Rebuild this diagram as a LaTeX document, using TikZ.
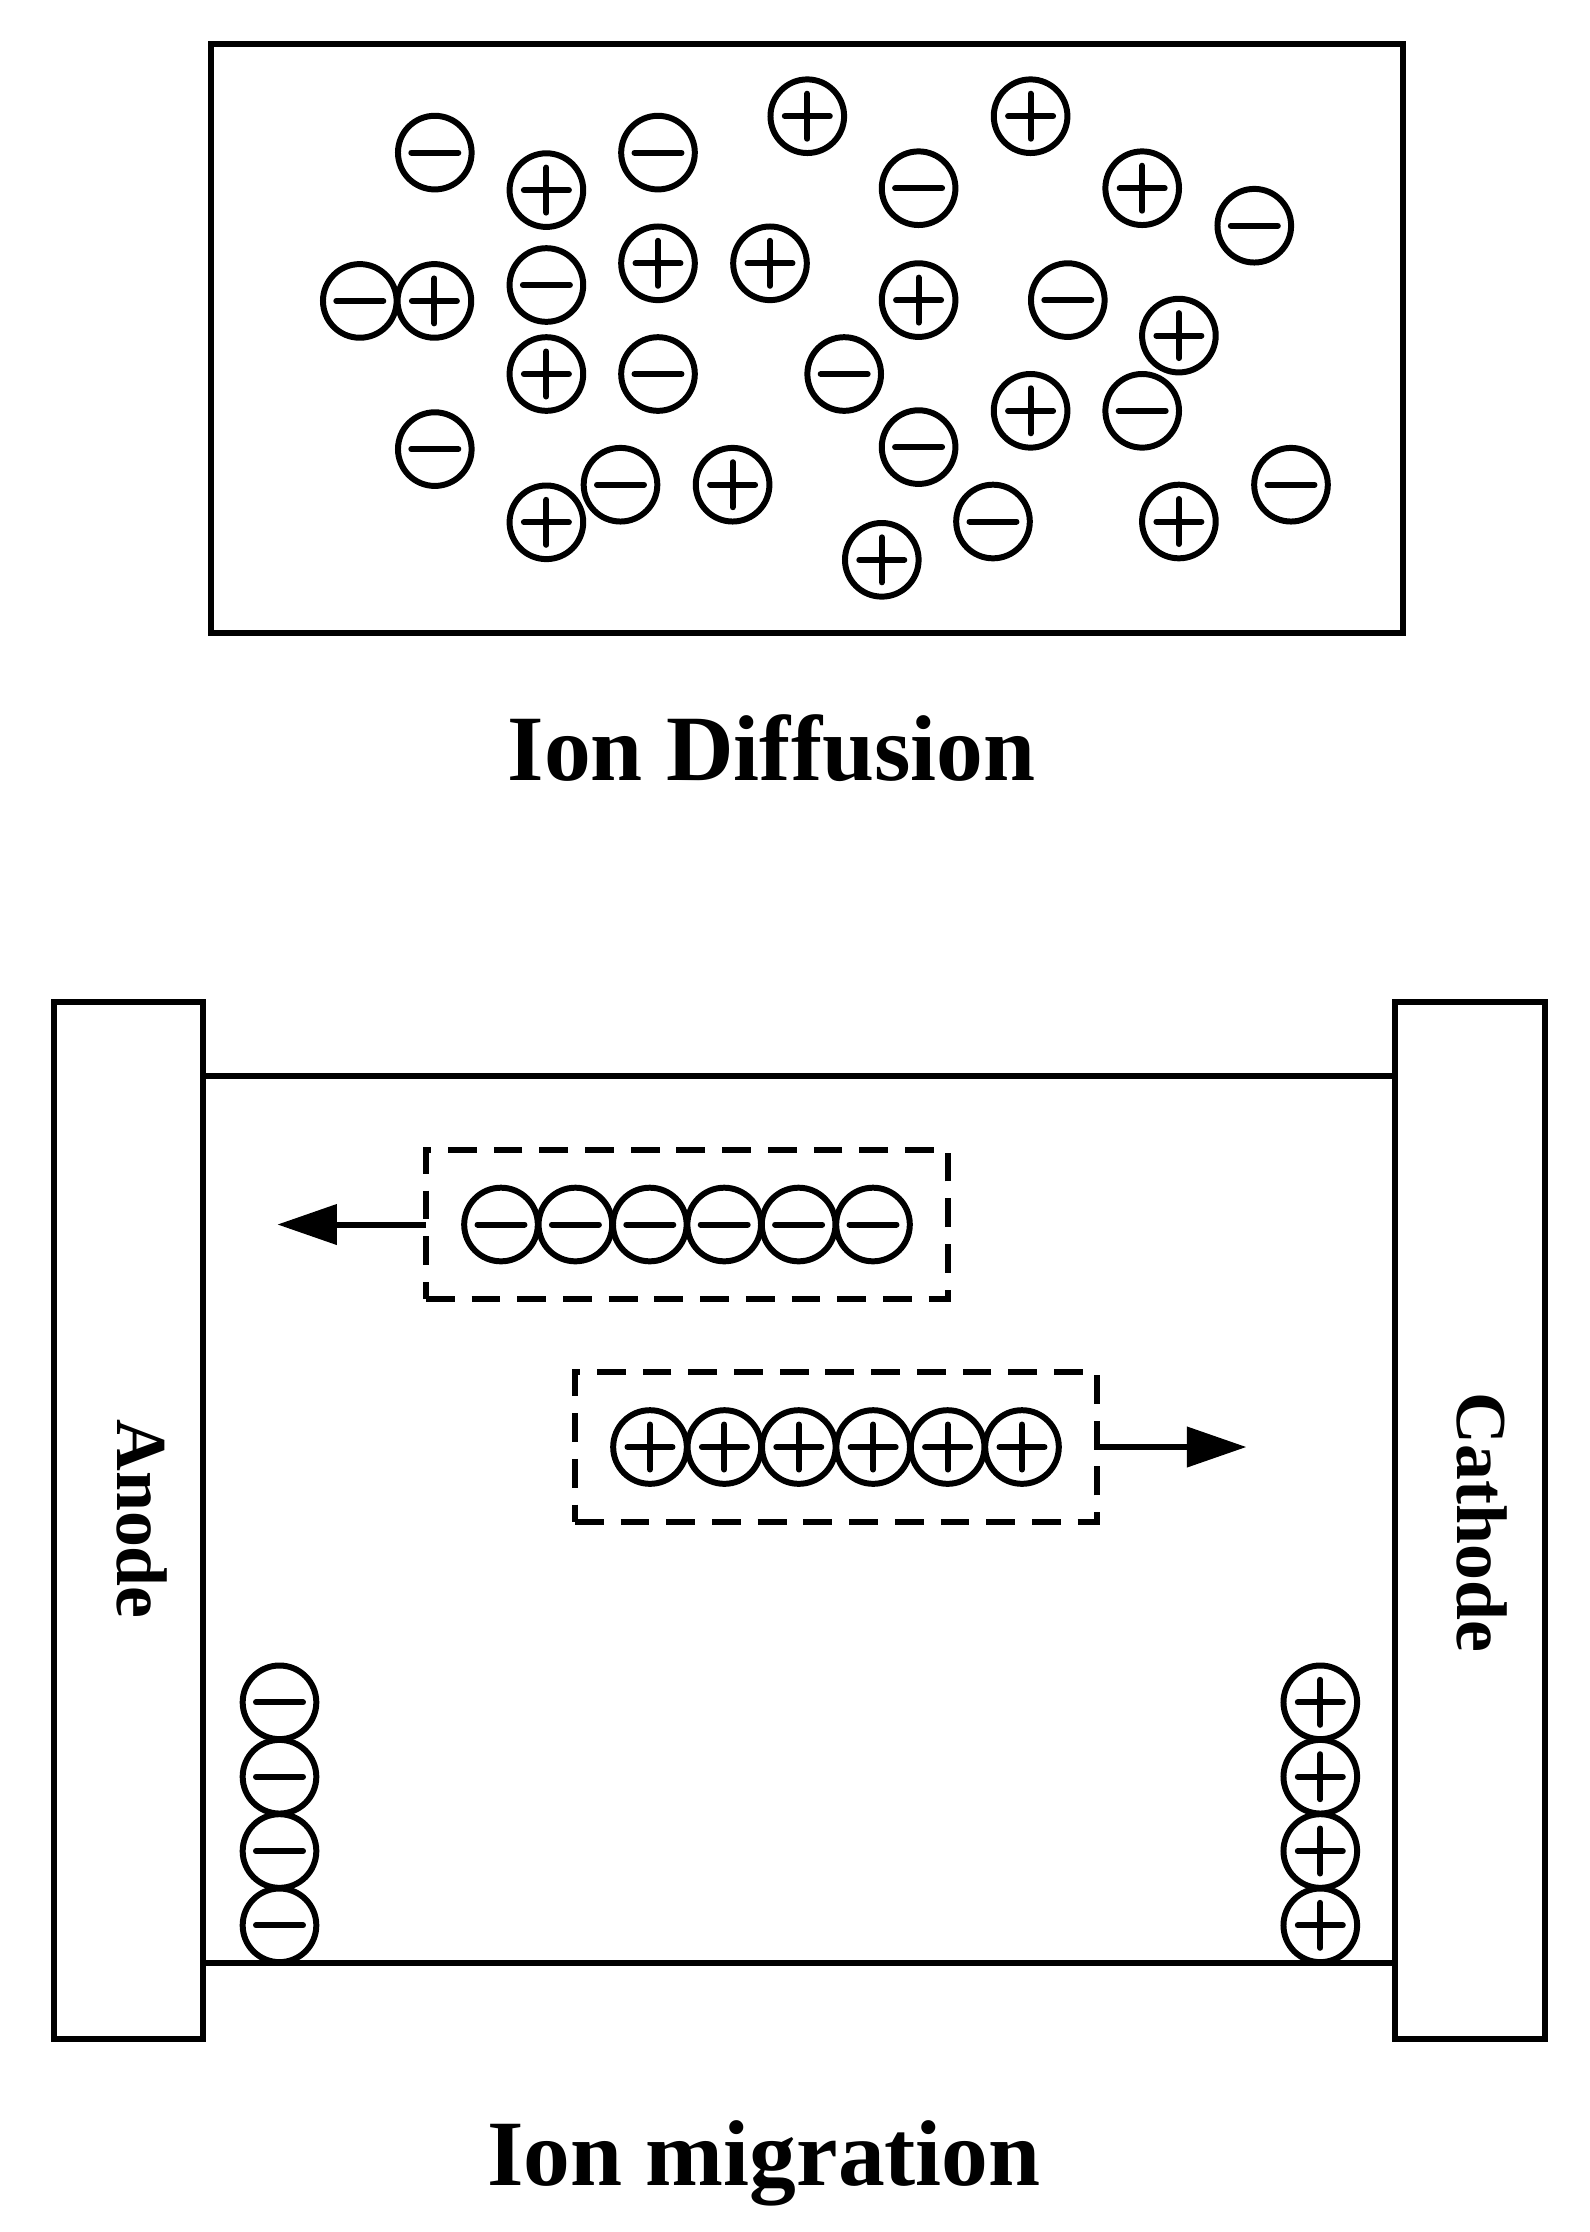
\documentclass[tikz,border=0pt]{standalone}
\usepackage{fontspec}
\setmainfont{Liberation Serif}
\usetikzlibrary{arrows.meta}
\begin{document}
\begin{tikzpicture}[x=0.01cm,y=-0.01cm,
  lw/.style={line width=1.7pt},
  sign/.style={lw, line cap=round},
  ion/.style={circle, draw, lw, inner sep=0pt, outer sep=0pt, minimum size=0.736cm},
  ionp/.style={ion, path picture={
      \draw[sign] (path picture bounding box.center) ++(-22.5,0) -- ++(45,0);
      \draw[sign] (path picture bounding box.center) ++(0,-22.5) -- ++(0,45);}},
  ionm/.style={ion, path picture={
      \draw[sign] (path picture bounding box.center) ++(-23.5,0) -- ++(47,0);}},
  frame/.style={draw, lw, rectangle, inner sep=0pt, outer sep=0pt},
  dashbox/.style={draw, lw, rectangle, inner sep=0pt, outer sep=0pt,
      dash pattern=on 8.2pt off 4.8pt, minimum width=5.22cm, minimum height=1.49cm},
  electrode/.style={frame, minimum width=1.49cm, minimum height=10.36cm},
  arr/.style={lw, -{Triangle[length=16.9pt,width=11.2pt]}},
  title/.style={font=\bfseries\fontsize{26.6pt}{30pt}\selectfont, inner sep=0pt, anchor=base},
  elabel/.style={font=\bfseries\fontsize{20.4pt}{24pt}\selectfont, inner sep=0pt, anchor=base, rotate=-90}
]
\useasboundingbox (0,0) rectangle (1590,2232);

% ---------- Ion diffusion ----------
\node[frame, minimum width=11.92cm, minimum height=5.89cm] (diffbox) at (807,338.5) {};

\foreach \x/\y [count=\i] in {546.4/190.1, 807.3/116.2, 434.4/300.9, 658/263.3, 770/263.3,
    546.4/374, 732.6/484.7, 546.4/522.3, 1030.6/116.2, 1142.2/188.2, 918.6/300.1,
    1178.9/335.6, 1030.6/410.8, 1178.9/521.5, 881.8/559.8}
  \node[ionp] (dp\i) at (\x,\y) {};

\foreach \x/\y [count=\i] in {434.8/152.6, 658/152.6, 359.8/300.9, 546.4/285, 658/374,
    844.2/374, 434.8/449.1, 620.5/484.7, 918.6/188.2, 1254.3/225.7, 1067.8/300.1,
    1142.2/410.8, 918.6/447.1, 1291/484.7, 993/521.5}
  \node[ionm] (dm\i) at (\x,\y) {};

\node[title] (t1) at (771.6,780.7) {Ion Diffusion};

% ---------- Ion migration ----------
\node[electrode] (anode) at (128.7,1520.4) {};
\node[electrode] (cathode) at (1470,1520.4) {};
\coordinate (ytop) at (0,1076);
\coordinate (ybot) at (0,1963.3);
\draw[lw] (anode.east |- ytop) -- (cathode.west |- ytop);
\draw[lw] (anode.east |- ybot) -- (cathode.west |- ybot);

\node[elabel] (anodelabel) at (117.3,1519) {Anode};
\node[elabel] (cathodelabel) at (1457.3,1522.5) {Cathode};

% negative group moving to anode
\node[dashbox] (nbox) at (687,1224.5) {};
\foreach \i in {0,...,5}
  \node[ionm] (nm\i) at (501+74.4*\i,1224.5) {};
\coordinate (tipL) at (277.4,1224.5);
\draw[arr] (nbox.west) -- (tipL);

% positive group moving to cathode
\node[dashbox] (pbox) at (836,1447) {};
\foreach \i in {0,...,5}
  \node[ionp] (pp\i) at (650+74.4*\i,1447) {};
\coordinate (tipR) at (1246.4,1447);
\draw[arr] (pbox.east) -- (tipR);

% accumulated ions at electrodes
\foreach \y [count=\i] in {1702.3,1776.7,1851,1925.3}
  \node[ionm] (am\i) at (279.5,\y) {};
\foreach \y [count=\i] in {1702.3,1776.7,1851,1925.3}
  \node[ionp] (cp\i) at (1320.3,\y) {};

\node[title] (t2) at (764,2185) {Ion migration};
\end{tikzpicture}
\end{document}
